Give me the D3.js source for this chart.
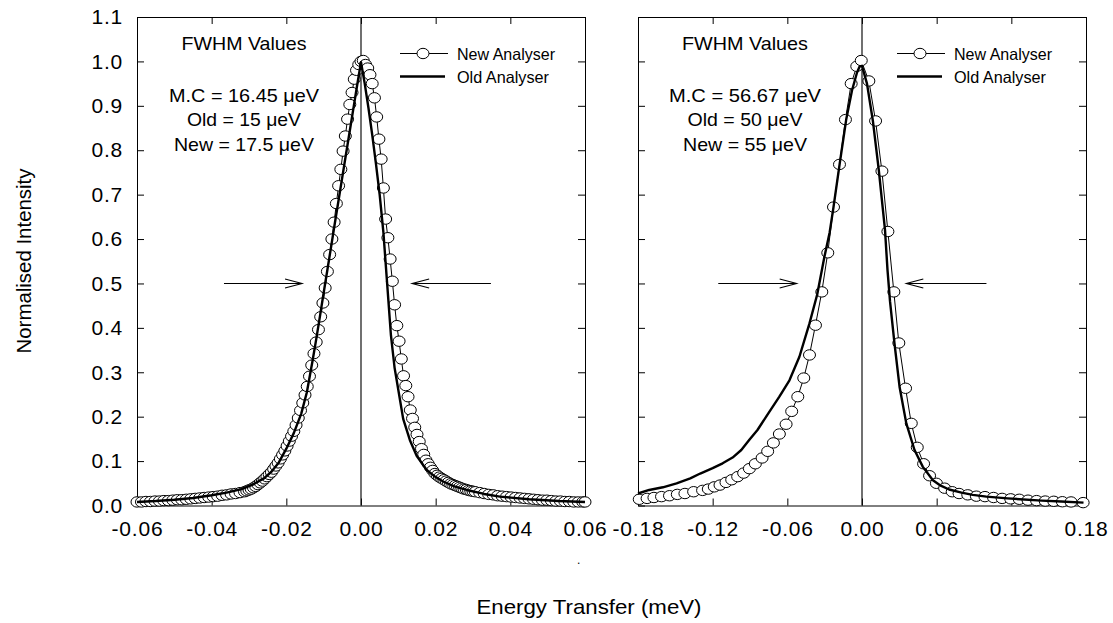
<!doctype html>
<html lang="en">
<head>
<meta charset="utf-8">
<title>FWHM comparison</title>
<script src="https://d3js.org/d3.v7.min.js"></script>
<style>
  body { margin: 0; background: #fff; }
  .tick text { font-family: "Liberation Sans", Arial, sans-serif; font-size: 21px; fill: #000; letter-spacing: 0.8px; }
  .axis path, .axis line { stroke: #000; stroke-width: 1px; }
  .narrow { font-family: "Liberation Sans Narrow", "Arial Narrow", "Liberation Sans", Arial, sans-serif; fill: #000; }
</style>
</head>
<body>
<svg width="1113" height="623"></svg>
<script>
// ---- data (energy transfer meV, normalised intensity) ----
var newLeft = [
  [-0.0600,0.008],[-0.0588,0.008],[-0.0576,0.009],[-0.0564,0.009],[-0.0552,0.010],[-0.0540,0.010],
  [-0.0528,0.011],[-0.0516,0.011],[-0.0504,0.012],[-0.0492,0.013],[-0.0480,0.013],[-0.0468,0.014],
  [-0.0456,0.015],[-0.0444,0.016],[-0.0432,0.017],[-0.0420,0.018],[-0.0408,0.019],[-0.0396,0.020],
  [-0.0384,0.021],[-0.0372,0.023],[-0.0360,0.024],[-0.0348,0.026],[-0.0336,0.027],[-0.0324,0.029],
  [-0.0312,0.031],[-0.0306,0.033],[-0.0300,0.035],[-0.0294,0.037],[-0.0288,0.040],[-0.0282,0.043],
  [-0.0276,0.047],[-0.0270,0.051],[-0.0264,0.055],[-0.0258,0.060],[-0.0252,0.065],[-0.0246,0.070],
  [-0.0240,0.075],[-0.0234,0.082],[-0.0228,0.089],[-0.0222,0.096],[-0.0216,0.105],[-0.0210,0.114],
  [-0.0204,0.123],[-0.0198,0.134],[-0.0192,0.145],[-0.0186,0.156],[-0.0180,0.167],[-0.0174,0.181],
  [-0.0168,0.197],[-0.0162,0.214],[-0.0156,0.231],[-0.0150,0.249],[-0.0144,0.268],[-0.0138,0.291],
  [-0.0132,0.316],[-0.0126,0.342],[-0.0120,0.368],[-0.0114,0.396],[-0.0108,0.425],[-0.0102,0.456],
  [-0.0096,0.490],[-0.0090,0.527],[-0.0084,0.565],[-0.0078,0.600],[-0.0072,0.638],[-0.0066,0.680],
  [-0.0060,0.720],[-0.0054,0.757],[-0.0048,0.798],[-0.0042,0.832],[-0.0036,0.870],[-0.0030,0.903],
  [-0.0024,0.930],[-0.0018,0.960],[-0.0012,0.980],[-0.0006,0.993],[0.0000,1.000],[0.0006,1.002],
  [0.0012,0.993],[0.0018,0.985],[0.0024,0.970],[0.0030,0.950],[0.0036,0.918],[0.0042,0.875],
  [0.0048,0.825],[0.0054,0.780],[0.0060,0.715],[0.0066,0.645],[0.0072,0.603],[0.0078,0.555],
  [0.0084,0.505],[0.0090,0.452],[0.0096,0.405],[0.0102,0.370],[0.0108,0.330],[0.0114,0.292],
  [0.0120,0.270],[0.0126,0.245],[0.0132,0.215],[0.0138,0.196],[0.0144,0.176],[0.0150,0.160],
  [0.0156,0.144],[0.0162,0.128],[0.0168,0.115],[0.0174,0.102],[0.0180,0.094],[0.0186,0.086],
  [0.0192,0.079],[0.0198,0.072],[0.0204,0.068],[0.0210,0.064],[0.0216,0.061],[0.0222,0.058],
  [0.0228,0.055],[0.0234,0.052],[0.0240,0.049],[0.0246,0.047],[0.0252,0.045],[0.0258,0.043],
  [0.0264,0.041],[0.0270,0.039],[0.0276,0.037],[0.0282,0.036],[0.0288,0.034],[0.0294,0.033],
  [0.0300,0.032],[0.0306,0.031],[0.0318,0.029],[0.0330,0.027],[0.0342,0.025],[0.0354,0.024],
  [0.0366,0.022],[0.0378,0.021],[0.0390,0.020],[0.0402,0.019],[0.0414,0.018],[0.0426,0.017],
  [0.0438,0.016],[0.0450,0.015],[0.0462,0.014],[0.0474,0.013],[0.0486,0.012],[0.0498,0.012],
  [0.0510,0.011],[0.0522,0.010],[0.0534,0.010],[0.0546,0.009],[0.0558,0.009],[0.0570,0.008],
  [0.0582,0.008],[0.0594,0.008],[0.0600,0.008]
];
var oldLeft = [
  [-0.060,0.008],[-0.055,0.010],[-0.050,0.013],[-0.045,0.017],[-0.040,0.023],[-0.036,0.029],
  [-0.032,0.037],[-0.029,0.047],[-0.026,0.061],[-0.024,0.076],[-0.022,0.097],[-0.020,0.128],
  [-0.018,0.163],[-0.016,0.207],[-0.0145,0.255],[-0.013,0.325],[-0.012,0.374],[-0.011,0.426],
  [-0.010,0.479],[-0.009,0.531],[-0.008,0.583],[-0.007,0.636],[-0.006,0.688],[-0.005,0.740],
  [-0.004,0.792],[-0.003,0.844],[-0.002,0.896],[-0.001,0.948],[0.000,0.998],[0.001,0.950],
  [0.002,0.895],[0.003,0.835],[0.004,0.770],[0.005,0.700],[0.006,0.615],[0.007,0.500],
  [0.008,0.385],[0.009,0.310],[0.010,0.260],[0.0113,0.195],[0.0131,0.147],[0.0149,0.112],
  [0.0176,0.080],[0.020,0.064],[0.022,0.054],[0.025,0.043],[0.0283,0.035],[0.033,0.026],
  [0.0372,0.020],[0.045,0.014],[0.053,0.010],[0.060,0.008]
];
var newRight = [
  [-0.1790,0.014],[-0.1727,0.016],[-0.1672,0.018],[-0.1611,0.020],[-0.1547,0.022],[-0.1484,0.025],
  [-0.1423,0.027],[-0.1353,0.031],[-0.1281,0.034],[-0.1235,0.037],[-0.1187,0.042],[-0.1141,0.046],
  [-0.1093,0.052],[-0.1047,0.058],[-0.0999,0.065],[-0.0951,0.073],[-0.0905,0.083],[-0.0857,0.094],
  [-0.0803,0.107],[-0.0758,0.122],[-0.0712,0.141],[-0.0664,0.161],[-0.0610,0.183],[-0.0565,0.212],
  [-0.0516,0.245],[-0.0468,0.287],[-0.0422,0.339],[-0.0374,0.406],[-0.0323,0.481],[-0.0275,0.569],
  [-0.0229,0.672],[-0.0181,0.768],[-0.0133,0.869],[-0.0087,0.950],[-0.0042,0.989],[-0.0006,1.002],
  [0.0055,0.956],[0.0109,0.866],[0.0160,0.753],[0.0208,0.617],[0.0256,0.481],[0.0296,0.366],
  [0.0350,0.264],[0.0396,0.185],[0.0444,0.131],[0.0495,0.094],[0.0543,0.067],[0.0598,0.050],
  [0.0664,0.039],[0.0725,0.031],[0.0780,0.027],[0.0850,0.024],[0.0919,0.021],[0.0988,0.020],
  [0.1057,0.018],[0.1126,0.016],[0.1195,0.015],[0.1264,0.014],[0.1334,0.012],[0.1403,0.011],
  [0.1472,0.010],[0.1541,0.0095],[0.1610,0.0085],[0.1680,0.008],[0.1777,0.0065]
];
var oldRight = [
  [-0.180,0.027],[-0.171,0.035],[-0.160,0.041],[-0.149,0.050],[-0.138,0.061],[-0.130,0.072],
  [-0.120,0.084],[-0.112,0.095],[-0.104,0.108],[-0.097,0.125],[-0.0905,0.148],[-0.084,0.170],
  [-0.077,0.200],[-0.0664,0.245],[-0.0583,0.282],[-0.0503,0.335],[-0.0422,0.410],[-0.036,0.475],
  [-0.0302,0.560],[-0.026,0.615],[-0.0229,0.672],[-0.018,0.768],[-0.0127,0.869],[-0.008,0.935],
  [-0.004,0.975],[-0.002,0.988],[0.000,0.990],[0.004,0.950],[0.0087,0.867],[0.0135,0.755],
  [0.0185,0.620],[0.0205,0.530],[0.0225,0.460],[0.0261,0.365],[0.0302,0.267],[0.0356,0.185],
  [0.0422,0.125],[0.0489,0.087],[0.057,0.057],[0.0624,0.046],[0.070,0.036],[0.080,0.029],
  [0.089,0.024],[0.100,0.020],[0.117,0.016],[0.1445,0.011],[0.160,0.009],[0.178,0.0065]
];

var xTicksLeft = [-0.06, -0.04, -0.02, 0.00, 0.02, 0.04, 0.06];
var xTicksRight = [-0.18, -0.12, -0.06, 0.00, 0.06, 0.12, 0.18];
var yTicks = [0.0, 0.1, 0.2, 0.3, 0.4, 0.5, 0.6, 0.7, 0.8, 0.9, 1.0, 1.1];

var notesLeft = ["FWHM Values", "M.C = 16.45 \u03BCeV", "Old = 15 \u03BCeV", "New = 17.5 \u03BCeV"];
var notesRight = ["FWHM Values", "M.C = 56.67 \u03BCeV", "Old = 50 \u03BCeV", "New = 55 \u03BCeV"];
var legendNames = ["New Analyser", "Old Analyser"];
// half-height arrows: [tail, head] in meV at intensity 0.5
var arrowsLeft = [[-0.0367, -0.0158], [0.0348, 0.0137]];
var arrowsRight = [[-0.1155, -0.0525], [0.1000, 0.0356]];

var svg = d3.select("svg");
var yTop = 17, yBottom = 505.5;
var y = d3.scaleLinear().domain([0, 1.1]).range([yBottom, yTop]);

var panels = [
  { x: d3.scaleLinear().domain([-0.06, 0.06]).range([137, 585]), ticks: xTicksLeft, newData: newLeft, oldData: oldLeft,
    notes: notesLeft, noteW: [125, 150, 114, 140], noteX: 244, legX: 400, arrows: arrowsLeft, yLabels: true },
  { x: d3.scaleLinear().domain([-0.18, 0.18]).range([638, 1086]), ticks: xTicksRight, newData: newRight, oldData: oldRight,
    notes: notesRight, noteW: [126, 152, 115, 124], noteX: 745, legX: 897, arrows: arrowsRight, yLabels: false }
];

// plain hyphen minus, like the original
function fmtX(d) { var s = Math.abs(d).toFixed(2); return d < -1e-9 ? "-" + s : s; }

panels.forEach(function (p) {
  var x = p.x;
  var x0 = x.range()[0], x1 = x.range()[1];
  var g = svg.append("g");

  // frame with inward ticks
  g.append("g").attr("class", "axis").attr("transform", "translate(0," + yBottom + ")")
    .call(d3.axisBottom(x).tickValues(p.ticks).tickSizeInner(-7).tickSizeOuter(0).tickPadding(16).tickFormat(fmtX));
  g.append("g").attr("class", "axis").attr("transform", "translate(0," + yTop + ")")
    .call(d3.axisTop(x).tickValues(p.ticks).tickSizeInner(-7).tickSizeOuter(0).tickFormat(""));
  g.append("g").attr("class", "axis").attr("transform", "translate(" + x0 + ",0)")
    .call(d3.axisLeft(y).tickValues(yTicks).tickSizeInner(-7).tickSizeOuter(0).tickPadding(14)
      .tickFormat(p.yLabels ? function (d) { return d.toFixed(1); } : ""));
  g.append("g").attr("class", "axis").attr("transform", "translate(" + x1 + ",0)")
    .call(d3.axisRight(y).tickValues(yTicks).tickSizeInner(-7).tickSizeOuter(0).tickFormat(""));
  g.selectAll(".axis .domain").attr("stroke-width", 1.2);

  // zero line
  g.append("line").attr("x1", x(0)).attr("x2", x(0)).attr("y1", y(0)).attr("y2", y(1.1))
    .attr("stroke", "#111").attr("stroke-width", 1.2);

  // half-max arrows
  p.arrows.forEach(function (a) {
    var xt = x(a[0]), xh = x(a[1]), yy = y(0.5), dir = xh > xt ? 1 : -1;
    g.append("path")
      .attr("d", "M" + xt + "," + yy + "H" + xh + "M" + (xh - dir * 17) + "," + (yy - 4.5) + "L" + xh + "," + yy + "L" + (xh - dir * 17) + "," + (yy + 4.5))
      .attr("fill", "none").attr("stroke", "#000").attr("stroke-width", 1.1);
  });

  var line = d3.line().x(function (d) { return x(d[0]); }).y(function (d) { return y(d[1]); });

  // new analyser: thin line + open circles
  g.append("path").datum(p.newData).attr("d", line).attr("fill", "none").attr("stroke", "#000").attr("stroke-width", 1);
  g.selectAll("ellipse.pt").data(p.newData).enter().append("ellipse").attr("class", "pt")
    .attr("cx", function (d) { return x(d[0]); }).attr("cy", function (d) { return y(d[1]); })
    .attr("rx", 6).attr("ry", 5.2).attr("fill", "#fff").attr("stroke", "#000").attr("stroke-width", 1);

  // old analyser: thick line
  g.append("path").datum(p.oldData).attr("d", line).attr("fill", "none").attr("stroke", "#000").attr("stroke-width", 2.4)
    .attr("stroke-linejoin", "round");

  // FWHM notes
  var base = [49.5, 101.5, 126, 151];
  p.notes.forEach(function (t, i) {
    g.append("text").attr("class", "narrow").attr("x", p.noteX).attr("y", base[i])
      .attr("text-anchor", "middle").attr("font-size", 19)
      .attr("textLength", p.noteW[i]).attr("lengthAdjust", "spacingAndGlyphs").text(t);
  });

  // legend
  var lx = p.legX;
  g.append("line").attr("x1", lx).attr("x2", lx + 48).attr("y1", 53.5).attr("y2", 53.5).attr("stroke", "#000").attr("stroke-width", 1);
  g.append("ellipse").attr("cx", lx + 23).attr("cy", 53.5).attr("rx", 6).attr("ry", 5.2)
    .attr("fill", "#fff").attr("stroke", "#000").attr("stroke-width", 1);
  g.append("line").attr("x1", lx).attr("x2", lx + 45).attr("y1", 76.5).attr("y2", 76.5).attr("stroke", "#000").attr("stroke-width", 2.4);
  legendNames.forEach(function (t, i) {
    g.append("text").attr("class", "narrow").attr("x", lx + 57).attr("y", i == 0 ? 59.5 : 82.5)
      .attr("font-size", 16.5).attr("textLength", i == 0 ? 98 : 92).attr("lengthAdjust", "spacingAndGlyphs").text(t);
  });
});

// axis titles
svg.append("text").attr("class", "narrow").attr("transform", "translate(31,261) rotate(-90)")
  .attr("text-anchor", "middle").attr("font-size", 21).attr("textLength", 185).attr("lengthAdjust", "spacingAndGlyphs")
  .text("Normalised Intensity");
svg.append("text").attr("class", "narrow").attr("x", 589).attr("y", 613.5)
  .attr("text-anchor", "middle").attr("font-size", 21).attr("textLength", 225).attr("lengthAdjust", "spacingAndGlyphs")
  .text("Energy Transfer (meV)");
svg.append("text").attr("x", 577).attr("y", 564).attr("font-size", 12).attr("font-family", "Liberation Sans, sans-serif").text(".");
</script>
</body>
</html>
